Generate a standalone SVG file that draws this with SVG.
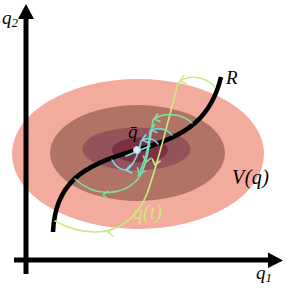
<svg xmlns="http://www.w3.org/2000/svg" xmlns:xlink="http://www.w3.org/1999/xlink" width="291" height="304" viewBox="0 0 291 304">
<style>
.tx{font-family:"Liberation Serif","DejaVu Serif",serif;font-style:italic;fill:#000}
.traj{fill:none;stroke-width:1.6;stroke-linecap:round;stroke-linejoin:round}
.chev{fill:none;stroke-width:1.6;stroke-linecap:round;stroke-linejoin:round}
.axis{stroke:#000;stroke-width:5;fill:none}
</style>
<defs>
<path id="chev" d="M-5,-4 L0,0 L-5,4"/>
</defs>
<g id="potential">
<ellipse cx="138" cy="154" rx="126" ry="75" fill="#f2ab9c"/>
<ellipse cx="137.5" cy="153" rx="87.5" ry="48" fill="#b07366"/>
<ellipse cx="136.5" cy="149" rx="54" ry="21.5" fill="#94535a"/>
<ellipse cx="140" cy="150" rx="28" ry="12.5" fill="#7c3142"/>
</g>
<g id="axes">
<line class="axis" x1="26" y1="274" x2="26" y2="17"/>
<polygon points="18,19 26,4 34,19" fill="#000"/>
<line class="axis" x1="14" y1="260" x2="270" y2="260"/>
<polygon points="268,252.5 283,260.5 268,268" fill="#000"/>
</g>
<g id="R">
<path d="M53,232 C55,185 80,165 137,150 C190,136 212,115 221,77" fill="none" stroke="#000" stroke-width="4.5"/>
</g>
<g id="connectors">
<path class="traj" stroke="#c8ec7e" d="M215,87 C205,76 188,74 178,83 C170,115 158,160 150,185 C143,210 125,232 95,232 C78,232 64,226 55,221"/>
<g class="chev" stroke="#c8ec7e">
<use xlink:href="#chev" transform="translate(180,81) rotate(165)"/>
<use xlink:href="#chev" transform="translate(155,165) rotate(105)"/>
<use xlink:href="#chev" transform="translate(108,232) rotate(180)"/>
</g>
<path class="traj" stroke="#7ee29a" d="M192,123 C182,113 162,112 153,120 C150,140 148,160 141,174 C132,192 100,202 75,179"/>
<g class="chev" stroke="#7ee29a">
<use xlink:href="#chev" transform="translate(154,119) rotate(165)"/>
<use xlink:href="#chev" transform="translate(146,162) rotate(105)"/>
<use xlink:href="#chev" transform="translate(103,195) rotate(180)"/>
</g>
<path class="traj" stroke="#6fdcc0" d="M172,135 C166,128 156,127 150,131 C149,145 146,160 138,176"/>
<g class="chev" stroke="#6fdcc0">
<use xlink:href="#chev" transform="translate(151,130) rotate(165)"/>
<use xlink:href="#chev" transform="translate(139,174) rotate(115)"/>
</g>
<path class="traj" stroke="#82dce8" d="M158,144 C154,138 146,137 141,141 C140,150 134,165 127,170 C120,170 115,166 112,160"/>
<path class="traj" stroke="#82dce8" d="M126,156 L150,146"/>
<g class="chev" stroke="#82dce8">
<use xlink:href="#chev" transform="translate(142,140) rotate(165)"/>
<use xlink:href="#chev" transform="translate(126,170) rotate(170)"/>
</g>
</g>
<g id="qbar">
<circle cx="137" cy="150" r="3.5" fill="#d4eef4" stroke="#a8dce8" stroke-width="1"/>
</g>
<g id="labels">
<text class="tx" x="2" y="24" font-size="19">q<tspan font-size="13" dy="3">2</tspan></text>
<text class="tx" x="256" y="279" font-size="19">q<tspan font-size="13" dy="3">1</tspan></text>
<text class="tx" x="226" y="84" font-size="19">R</text>
<text class="tx" x="232" y="184" font-size="20" textLength="37" lengthAdjust="spacing">V(q)</text>
<text class="tx" x="133" y="219" font-size="20" textLength="29" lengthAdjust="spacing" style="fill:#cfe67c">q(t)</text>
<text class="tx" x="128" y="138" font-size="19">q̄</text>
</g>
</svg>
